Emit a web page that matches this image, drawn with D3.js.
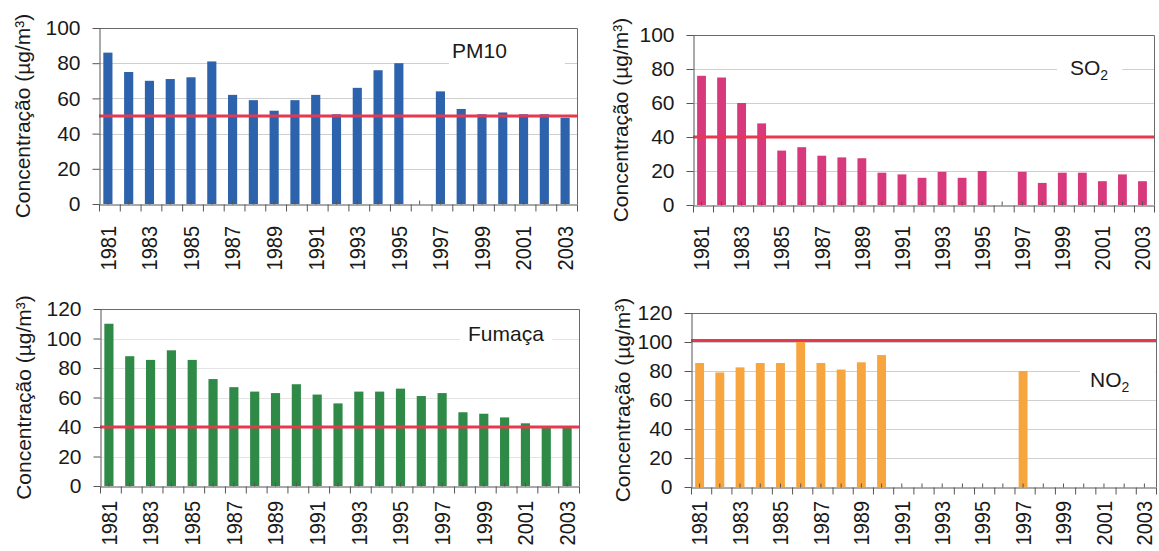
<!DOCTYPE html>
<html>
<head>
<meta charset="utf-8">
<script src="https://cdn.jsdelivr.net/npm/d3@7"></script>
<style>
  html, body { margin: 0; padding: 0; background: #fff; }
  svg { display: block; font-family: "Liberation Sans", Arial, sans-serif; }
</style>
</head>
<body>
<svg id="chart" width="1159" height="551"></svg>
<script>
// Annual mean concentrations, 1981-2003 (null = no measurement)
const years = [1981, 1982, 1983, 1984, 1985, 1986, 1987, 1988, 1989, 1990, 1991, 1992,
               1993, 1994, 1995, 1996, 1997, 1998, 1999, 2000, 2001, 2002, 2003];
const yearLabels = [1981, 1983, 1985, 1987, 1989, 1991, 1993, 1995, 1997, 1999, 2001, 2003];

const pm10   = [86, 75, 70, 71, 72, 81, 62, 59, 53, 59, 62, 51, 66, 76, 80, null, 64, 54, 51, 52, 51, 51, 49];
const so2    = [76, 75, 60, 48, 32, 34, 29, 28, 27.5, 19, 18, 16, 19.5, 16, 20, null, 19.5, 13, 19, 19, 14, 18, 14];
const fumaca = [110, 88, 85.5, 92, 85.5, 72.5, 67, 64, 63, 69, 62, 56, 64, 64, 66, 61, 63, 50, 49, 46.5, 42.5, 40.5, 40];
const no2    = [85.5, 79, 82.5, 85.5, 85.5, 101, 85.5, 81, 86, 91, null, null, null, null, null, null, 80,
                null, null, null, null, null, null];

// Reference limits drawn as the red horizontal lines
const pm10Limit = 50;
const so2Limit = 40;
const fumacaLimit = 40;
const no2Limit = 101;

// Y-axis tick values
const ticks100 = [0, 20, 40, 60, 80, 100];
const ticks120 = [0, 20, 40, 60, 80, 100, 120];

const yTitle = "Concentração (µg/m³)";

// Panel layout
const panels = [
  { values: pm10, limit: pm10Limit, yTicks: ticks100, color: "#2d62ad", grid: "#cfcfcf",
    frame: { l: 99, r: 577, t: 28, b: 204 }, titleX: 22, yearGap: 22,
    label: { main: "PM10", sub: "", x: 452, y: 50, padL: 3, padR: 58, padT: 13, padB: 16 } },
  { values: so2, limit: so2Limit, yTicks: ticks100, color: "#d7397c", grid: "#cfcfcf",
    frame: { l: 693, r: 1154, t: 35, b: 205 }, titleX: 620, yearGap: 21,
    label: { main: "SO", sub: "2", x: 1070, y: 67, padL: 13, padR: 14, padT: 12, padB: 14 } },
  { values: fumaca, limit: fumacaLimit, yTicks: ticks120, color: "#2f8a47", grid: "#e4e4e4",
    frame: { l: 100, r: 579, t: 309, b: 486 }, titleX: 23, yearGap: 15,
    label: { main: "Fumaça", sub: "", x: 468, y: 333, padL: 8, padR: 8, padT: 13, padB: 14 } },
  { values: no2, limit: no2Limit, yTicks: ticks120, color: "#f7a63f", grid: "#cfcfcf",
    frame: { l: 691, r: 1156, t: 313, b: 487 }, titleX: 622, yearGap: 14,
    label: { main: "NO", sub: "2", x: 1090, y: 379, padL: 10, padR: 26, padT: 12, padB: 14 } }
];

const axisColor = "#555";
const limitColor = "#e8384f";
const textColor = "#1a1a1a";
const barShift = -1.5;   // bars and labels sit slightly left of the slot centre
const svg = d3.select("#chart");

panels.forEach(p => {
  const f = p.frame;
  const yMax = d3.max(p.yTicks);
  const x = d3.scaleBand().domain(years).range([f.l, f.r]).padding(0);
  const y = d3.scaleLinear().domain([0, yMax]).range([f.b, f.t]);
  const slot = d3.scaleLinear().domain([0, years.length]).range([f.l, f.r]);
  const g = svg.append("g");

  // horizontal gridlines
  g.selectAll("line.grid")
    .data(p.yTicks.filter(v => v > 0 && v < yMax))
    .join("line")
    .attr("class", "grid")
    .attr("x1", f.l).attr("x2", f.r)
    .attr("y1", d => Math.round(y(d)) + 0.5).attr("y2", d => Math.round(y(d)) + 0.5)
    .attr("stroke", p.grid).attr("stroke-width", 1);

  // series label with white backing
  const lab = g.append("text")
    .attr("x", p.label.x).attr("y", p.label.y)
    .attr("dy", "0.36em")
    .attr("font-size", 21).attr("fill", textColor);
  lab.append("tspan").text(p.label.main);
  if (p.label.sub) {
    lab.append("tspan").attr("font-size", 14).attr("dy", 5).text(p.label.sub);
  }
  const bb = lab.node().getBBox();
  g.insert("rect", "text")
    .attr("x", bb.x - p.label.padL)
    .attr("y", p.label.y - p.label.padT)
    .attr("width", bb.width + p.label.padL + p.label.padR)
    .attr("height", p.label.padT + p.label.padB)
    .attr("fill", "#fff");

  // bars
  const bw = x.bandwidth() * 0.44;
  g.selectAll("rect.bar")
    .data(years.map((yr, i) => ({ yr, v: p.values[i] })).filter(d => d.v != null))
    .join("rect")
    .attr("class", "bar")
    .attr("x", d => x(d.yr) + (x.bandwidth() - bw) / 2 + barShift)
    .attr("width", bw)
    .attr("y", d => y(d.v))
    .attr("height", d => y(0) - y(d.v))
    .attr("fill", p.color);

  // limit line
  g.append("line")
    .attr("x1", f.l).attr("x2", f.r)
    .attr("y1", y(p.limit)).attr("y2", y(p.limit))
    .attr("stroke", limitColor).attr("stroke-width", 3);

  // top and right frame
  g.append("path")
    .attr("d", `M${f.l},${f.t + 0.5}H${f.r + 0.5}V${f.b}`)
    .attr("fill", "none").attr("stroke", "#6a6a6a").attr("stroke-width", 1);

  // y axis
  const ya = g.append("g")
    .attr("transform", `translate(${f.l + 0.5},0)`)
    .call(d3.axisLeft(y).tickValues(p.yTicks).tickSize(7).tickPadding(12).tickSizeOuter(0));
  ya.select(".domain").attr("stroke", axisColor);
  ya.selectAll(".tick line").attr("stroke", axisColor);
  ya.selectAll(".tick text")
    .attr("font-size", 21).attr("fill", textColor)
    .style("font-family", "'Liberation Sans', Arial, sans-serif");

  // x axis: ticks on category boundaries
  const xa = g.append("g")
    .attr("transform", `translate(0,${f.b + 0.5})`)
    .call(d3.axisBottom(slot).tickValues(d3.range(0, years.length + 1)).tickSize(7).tickFormat("").tickSizeOuter(0));
  xa.select(".domain").attr("stroke", axisColor);
  xa.selectAll(".tick line").attr("stroke", axisColor);

  // short inward marks at category centres
  const xm = g.append("g")
    .attr("transform", `translate(${barShift},${f.b + 0.5})`)
    .call(d3.axisBottom(x).tickSizeInner(-4).tickSizeOuter(0).tickFormat(""));
  xm.select(".domain").remove();
  xm.selectAll(".tick line").attr("stroke", axisColor);

  // rotated year labels
  const xl = g.append("g")
    .attr("transform", `translate(${barShift},${f.b})`)
    .call(d3.axisBottom(x).tickValues(yearLabels).tickSize(0).tickFormat(d3.format("d")));
  xl.select(".domain").remove();
  xl.selectAll(".tick text")
    .attr("transform", "rotate(-90) scale(1,1.08)")
    .attr("x", -p.yearGap).attr("y", 0).attr("dy", "0.36em")
    .attr("text-anchor", "end")
    .attr("font-size", 20).attr("fill", textColor)
    .style("font-family", "'Liberation Sans', Arial, sans-serif");

  // y axis title
  g.append("text")
    .attr("transform", `translate(${p.titleX},${(f.t + f.b) / 2}) rotate(-90)`)
    .attr("text-anchor", "middle").attr("dy", "0.36em")
    .attr("font-size", 21).attr("fill", textColor)
    .text(yTitle);
});
</script>
</body>
</html>
